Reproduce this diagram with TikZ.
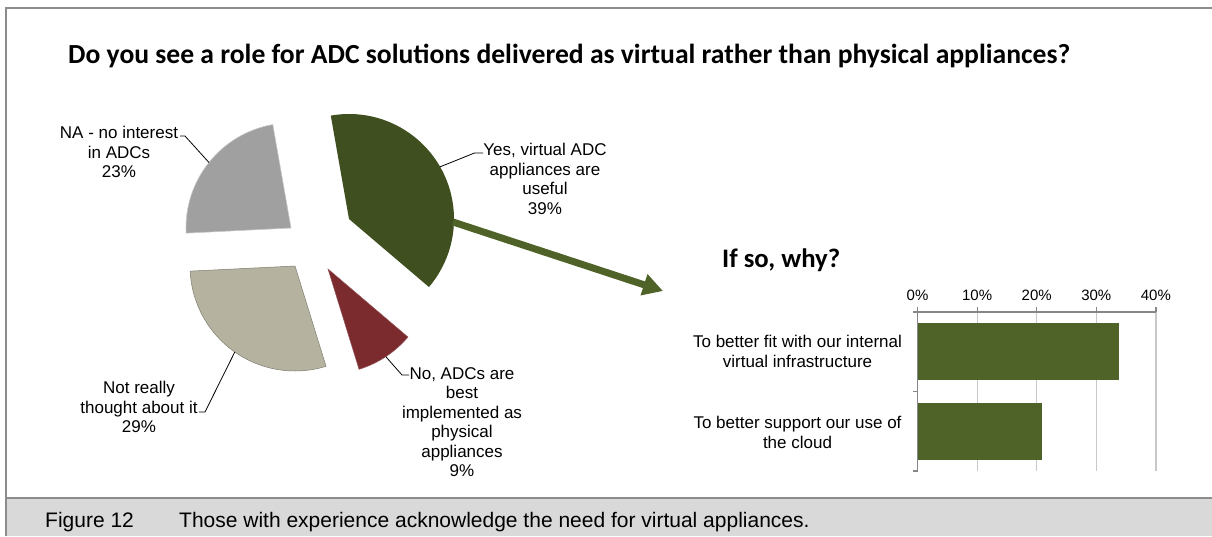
\documentclass[tikz,border=0pt]{standalone}
\usepackage{graphicx}
\usepackage{fontspec}
\setmainfont{Liberation Sans}
\newfontfamily\calibri{Carlito}
\usetikzlibrary{arrows.meta,calc}
\definecolor{yesc}{HTML}{3F4F1F}
\definecolor{noc}{HTML}{7B2A2E}
\definecolor{notc}{HTML}{B5B3A0}
\definecolor{nac}{HTML}{A0A0A0}
\definecolor{barc}{HTML}{4F6228}
\definecolor{framec}{HTML}{8C8C8C}
\definecolor{bandc}{HTML}{D9D9D9}
\definecolor{gridc}{HTML}{C8C8C8}
\definecolor{axisc}{HTML}{868686}
\begin{document}
\begin{tikzpicture}[x=1pt,y=-1pt,
  lbl/.style={align=center, inner sep=0pt, font=\fontsize{17}{19.5}\selectfont},
  axlbl/.style={inner sep=0pt, font=\fontsize{15}{18}\selectfont},
  capt/.style={anchor=base west, inner sep=0pt, font=\fontsize{21}{25}\selectfont},
  leader/.style={black, line width=0.8pt},
  grid/.style={gridc, line width=1.2pt},
  axis/.style={axisc, line width=1.2pt},
  bar/.style={fill=barc}]
\useasboundingbox (0,0) rectangle (1212,536);
% frame
\draw[framec, line width=1.5pt] (6,536) -- (6,8) -- (1212,8);
\fill[bandc] (6.75,498) rectangle (1212,536);
\draw[framec, line width=2pt] (6,498) -- (1212,498);
\node[capt] (fig) at (45,527) {Figure 12};
\node[capt] (cap) at (179,527) {Those with experience acknowledge the need for virtual appliances.};
% title
\node[anchor=base west, inner sep=0pt] (title) at (68,63) {\resizebox{1002pt}{!}{\calibri\bfseries\fontsize{24.5}{29}\selectfont Do you see a role for ADC solutions delivered as virtual rather than physical appliances?}};
% pie slices (y axis points down, so angles are mirrored)
\coordinate (ayes) at (349,219);
\coordinate (ano) at (328,269);
\coordinate (anot) at (295,266);
\coordinate (ana) at (291,228);
\fill[yesc] (ayes) -- ++(-100:105) arc[start angle=-100, end angle=40.4, radius=105] -- cycle;
\filldraw[fill=noc, draw=noc!80!white, line width=0.5pt] (ano) -- ++(40.4:105) arc[start angle=40.4, end angle=72.8, radius=105] -- cycle;
\filldraw[fill=notc, draw=notc!70!black, line width=0.5pt] (anot) -- ++(72.8:105) arc[start angle=72.8, end angle=177.2, radius=105] -- cycle;
\filldraw[fill=nac, draw=nac!60!white, line width=0.6pt] (ana) -- ++(177.2:105) arc[start angle=177.2, end angle=260, radius=105] -- cycle;
% arc mid points for leaders
\coordinate (myes) at ($(ayes)+(-29.8:105)$);
\coordinate (mno) at ($(ano)+(56.6:105)$);
\coordinate (mnot) at ($(anot)+(125:105)$);
\coordinate (mna) at ($(ana)+(218.6:105)$);
% labels
\node[lbl] (lyes) at (545,179) {Yes, virtual ADC\\appliances are\\useful\\39\%};
\node[lbl] (lno) at (462,422) {No, ADCs are\\best\\implemented as\\physical\\appliances\\9\%};
\node[lbl] (lnot) at (139,407) {Not really\\thought about it\\29\%};
\node[lbl] (lna) at (119,152) {NA - no interest\\in ADCs\\23\%};
\coordinate (kyes) at (483,153);
\coordinate (kno) at (409,375);
\coordinate (knot) at (199,412);
\coordinate (kna) at (180,136);
\draw[leader] (kyes) -- ++(-8.5,0) -- (myes);
\draw[leader] (kno) -- ++(-7,0) -- (mno);
\draw[leader] (knot) -- ++(6,0) -- (mnot);
\draw[leader] (kna) -- ++(5,0) -- (mna);
% arrow
\coordinate (astart) at (453,222);
\coordinate (aend) at (663,291);
\draw[barc, line width=7pt, -{Triangle[length=20pt,width=21pt]}] (astart) -- (aend);
% bar chart
\node[anchor=base west, inner sep=0pt] (sub) at (722,267) {\resizebox{118pt}{!}{\calibri\bfseries\fontsize{26.5}{30}\selectfont If so, why?}};
\foreach \i/\xx in {1/977.1,2/1036.7,3/1096.3,4/1155.9}{
  \draw[grid] (\xx,312) -- (\xx,471);
}
\fill[bar] (917.5,323) rectangle (1119,380);
\fill[bar] (917.5,403) rectangle (1042,460);
\draw[axis] (917.5,312) -- (1155.9,312);
\foreach \xx in {917.5,977.1,1036.7,1096.3,1155.9}{
  \draw[axis] (\xx,312) -- (\xx,307);
}
\draw[axis] (917.5,312) -- (917.5,471);
\foreach \yy in {312,391.5,471}{
  \draw[axis] (917.5,\yy) -- (912.5,\yy);
}
\node[axlbl] (t0) at (917.5,295) {0\%};
\node[axlbl] (t1) at (977.1,295) {10\%};
\node[axlbl] (t2) at (1036.7,295) {20\%};
\node[axlbl] (t3) at (1096.3,295) {30\%};
\node[axlbl] (t4) at (1155.9,295) {40\%};
\node[lbl] (c1) at (797.5,351.5) {To better fit with our internal\\virtual infrastructure};
\node[lbl] (c2) at (797.5,432.5) {To better support our use of\\the cloud};
\end{tikzpicture}
\end{document}
